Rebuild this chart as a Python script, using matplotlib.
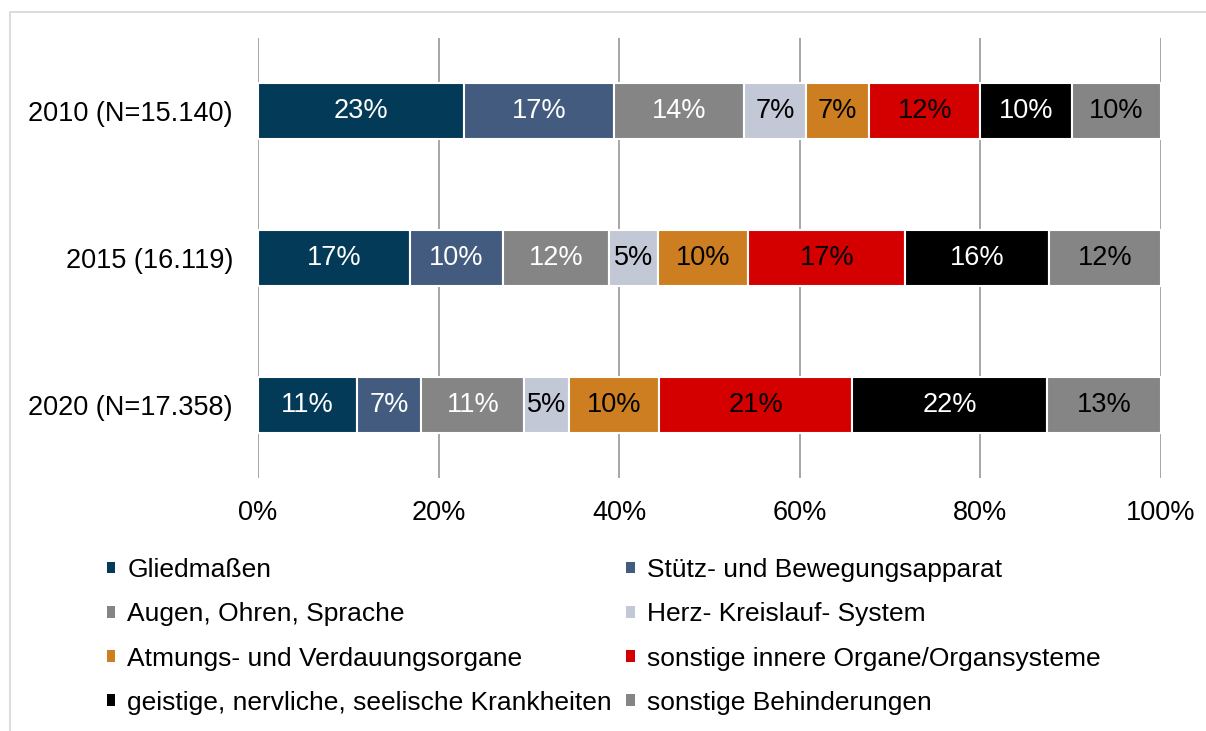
import matplotlib
matplotlib.use("Agg")
import matplotlib.pyplot as plt
from matplotlib.patches import Patch, Rectangle

plt.rcParams['font.family'] = ['Liberation Sans', 'DejaVu Sans']

years = ["2010 (N=15.140)", "2015 (16.119)", "2020 (N=17.358)"]
categories = [
    "Gliedmaßen",
    "Stütz- und Bewegungsapparat",
    "Augen, Ohren, Sprache",
    "Herz- Kreislauf- System",
    "Atmungs- und Verdauungsorgane",
    "sonstige innere Organe/Organsysteme",
    "geistige, nervliche, seelische Krankheiten",
    "sonstige Behinderungen",
]
# share per category (percent) for 2010, 2015, 2020
shares = {
    "Gliedmaßen": [22.8, 16.8, 11.0],
    "Stütz- und Bewegungsapparat": [16.6, 10.3, 7.1],
    "Augen, Ohren, Sprache": [14.4, 11.8, 11.4],
    "Herz- Kreislauf- System": [6.9, 5.4, 4.9],
    "Atmungs- und Verdauungsorgane": [7.0, 10.0, 10.0],
    "sonstige innere Organe/Organsysteme": [12.3, 17.4, 21.4],
    "geistige, nervliche, seelische Krankheiten": [10.1, 15.9, 21.6],
    "sonstige Behinderungen": [9.9, 12.4, 12.6],
}
colors = ["#023a57", "#425b7f", "#858585", "#c3c8d6",
          "#cc7e20", "#d40000", "#000000", "#858585"]
label_colors = ["white", "white", "white", "black",
                "black", "black", "white", "black"]
xticks = [0, 20, 40, 60, 80, 100]

W, H = 1206, 731
fig = plt.figure(figsize=(W / 100, H / 100), dpi=100)
ax = fig.add_axes([258 / W, 1 - 478 / H, (1161 - 258) / W, (478 - 38) / H])

ypos = list(range(len(years)))
left = [0.0] * len(years)
handles = []
for cat, col, tcol in zip(categories, colors, label_colors):
    vals = shares[cat]
    bars = ax.barh(ypos, vals, left=left, height=0.38, color=col,
                   edgecolor="white", linewidth=1.5, zorder=3)
    for b, v in zip(bars, vals):
        ax.text(b.get_x() + b.get_width() / 2, b.get_y() + b.get_height() / 2,
                f"{v:.0f}%", ha="center", va="center", color=tcol,
                fontsize=19.5, zorder=4)
    left = [l + v for l, v in zip(left, vals)]
    handles.append(Patch(facecolor=col, edgecolor="none", label=cat))

ax.set_xlim(0, 100)
ax.set_ylim(len(years) - 0.5, -0.5)
ax.set_yticks(ypos)
ax.set_yticklabels(years, fontsize=19.5)
ax.set_xticks(xticks)
ax.set_xticklabels([f"{t}%" for t in xticks], fontsize=19.5)
ax.tick_params(axis="y", length=0, pad=18)
ax.tick_params(axis="x", length=0, pad=16)
ax.grid(axis="x", color="#a6a6a6", linewidth=1.4, zorder=0)
ax.set_axisbelow(True)
for s in ax.spines.values():
    s.set_visible(False)

# legend: two columns, filled row by row
order = [0, 2, 4, 6, 1, 3, 5, 7]
leg = fig.legend([handles[i] for i in order], [categories[i] for i in order],
                 ncol=2, loc="upper left", bbox_to_anchor=(107 / W, 1 - 558 / H),
                 frameon=False, fontsize=19, handlelength=0.32, handleheight=0.32,
                 handletextpad=0.45, columnspacing=0.55, labelspacing=0.77,
                 borderpad=0, borderaxespad=0)

# outer frame
fig.add_artist(Rectangle((10 / W, -0.1), 1.2, 1 - 12 / H + 0.1,
                         transform=fig.transFigure, fill=False,
                         edgecolor="#d9d9d9", linewidth=1.3))

fig.savefig("out.png", dpi=100)
